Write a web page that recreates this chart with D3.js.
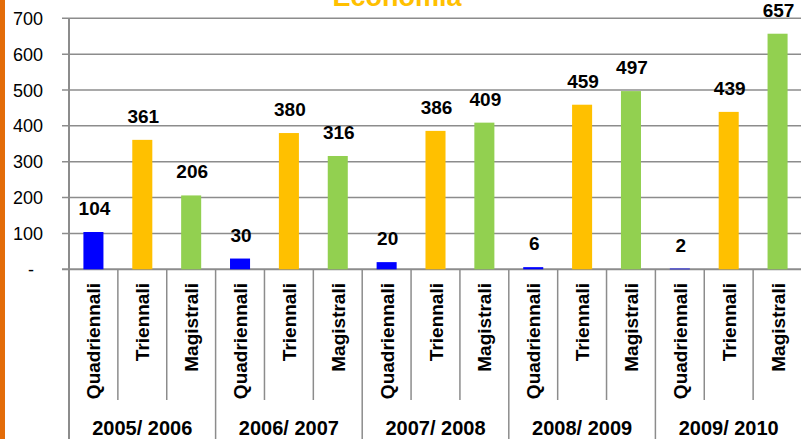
<!DOCTYPE html>
<html>
<head>
<meta charset="utf-8">
<script src="https://cdn.jsdelivr.net/npm/d3@7"></script>
<style>
  body { margin: 0; background: #fff; }
  svg { display: block; font-family: "Liberation Sans", Arial, sans-serif; }
</style>
</head>
<body>
<svg id="chart" width="801" height="439"></svg>
<script>
// chart data
const years = ["2005/ 2006", "2006/ 2007", "2007/ 2008", "2008/ 2009", "2009/ 2010"];
const types = ["Quadriennali", "Triennali", "Magistrali"];
const quadriennali = [104, 30, 20, 6, 2];
const triennali = [361, 380, 386, 459, 439];
const magistrali = [206, 316, 409, 497, 657];
const yTicks = [0, 100, 200, 300, 400, 500, 600, 700];
const colors = ["#0000FF", "#FFC000", "#92D050"];

const series = [quadriennali, triennali, magistrali];

// flatten into one row per category slot
const rows = [];
years.forEach((yr, i) => {
  types.forEach((t, j) => {
    rows.push({ key: yr + "|" + t, year: yr, type: t, value: series[j][i], color: colors[j], gi: i, ti: j });
  });
});

const svg = d3.select("#chart");
const plotLeft = 69, plotRight = 802, plotTop = 18.3, plotBottom = 269.3;
const grid = "#8c8c8c";

const x = d3.scaleBand().domain(rows.map(d => d.key)).range([plotLeft, plotRight]).padding(0);
const y = d3.scaleLinear().domain([0, 700]).range([plotBottom, plotTop]);
const barW = x.bandwidth() * 0.41;

// orange border on the left
svg.append("rect").attr("x", 0).attr("y", 0).attr("width", 5).attr("height", 439).attr("fill", "#E36C09");

// gridlines
svg.append("g").selectAll("line")
  .data(yTicks)
  .enter().append("line")
  .attr("x1", plotLeft - 7).attr("x2", plotRight)
  .attr("y1", d => y(d)).attr("y2", d => y(d))
  .attr("stroke", grid).attr("stroke-width", d => d === 0 ? 2 : 1.5);

// y tick labels
svg.append("g").selectAll("text")
  .data(yTicks)
  .enter().append("text")
  .attr("x", d => d === 0 ? 31 : 43)
  .attr("y", d => y(d) + 6.5)
  .attr("text-anchor", d => d === 0 ? "middle" : "end")
  .style("font-size", "18px")
  .style("fill", "#000")
  .text(d => d === 0 ? "-" : d);

// y axis line
svg.append("line")
  .attr("x1", plotLeft).attr("x2", plotLeft).attr("y1", plotTop).attr("y2", 439)
  .attr("stroke", grid).attr("stroke-width", 2);

// category dividers
const dividers = rows.map(d => ({ x: x(d.key) + x.bandwidth(), group: d.ti === 2 }));
svg.append("g").selectAll("line")
  .data(dividers)
  .enter().append("line")
  .attr("x1", d => d.x).attr("x2", d => d.x)
  .attr("y1", plotBottom).attr("y2", d => d.group ? 439 : 400)
  .attr("stroke", grid).attr("stroke-width", 1.5);

// bars
svg.append("g").selectAll("rect")
  .data(rows)
  .enter().append("rect")
  .attr("x", d => x(d.key) + (x.bandwidth() - barW) / 2)
  .attr("width", barW)
  .attr("y", d => y(d.value))
  .attr("height", d => y(0) - y(d.value))
  .attr("fill", d => d.color);

// value labels
svg.append("g").selectAll("text")
  .data(rows)
  .enter().append("text")
  .attr("x", d => x(d.key) + x.bandwidth() / 2 + 1)
  .attr("y", d => y(d.value) - 17)
  .attr("text-anchor", "middle")
  .style("font-size", "19px")
  .style("font-weight", "bold")
  .style("fill", "#000")
  .text(d => d.value);

// rotated category labels
svg.append("g").selectAll("text")
  .data(rows)
  .enter().append("text")
  .attr("transform", d => `translate(${x(d.key) + x.bandwidth() / 2 + 7},283) rotate(-90)`)
  .attr("text-anchor", "end")
  .style("font-size", "19px")
  .style("font-weight", "bold")
  .style("fill", "#000")
  .text(d => d.type);

// year labels
const groupW = x.bandwidth() * 3;
svg.append("g").selectAll("text")
  .data(years)
  .enter().append("text")
  .attr("x", d => x(d + "|" + types[0]) + groupW / 2)
  .attr("y", 435)
  .attr("text-anchor", "middle")
  .style("font-size", "20px")
  .style("font-weight", "bold")
  .style("fill", "#000")
  .text(d => d);

// title, partly cut off at the top
svg.append("text")
  .attr("x", 397).attr("y", 6)
  .attr("text-anchor", "middle")
  .style("font-size", "27px")
  .style("font-weight", "bold")
  .style("fill", "#FFC000")
  .text("Economia");
</script>
</body>
</html>
